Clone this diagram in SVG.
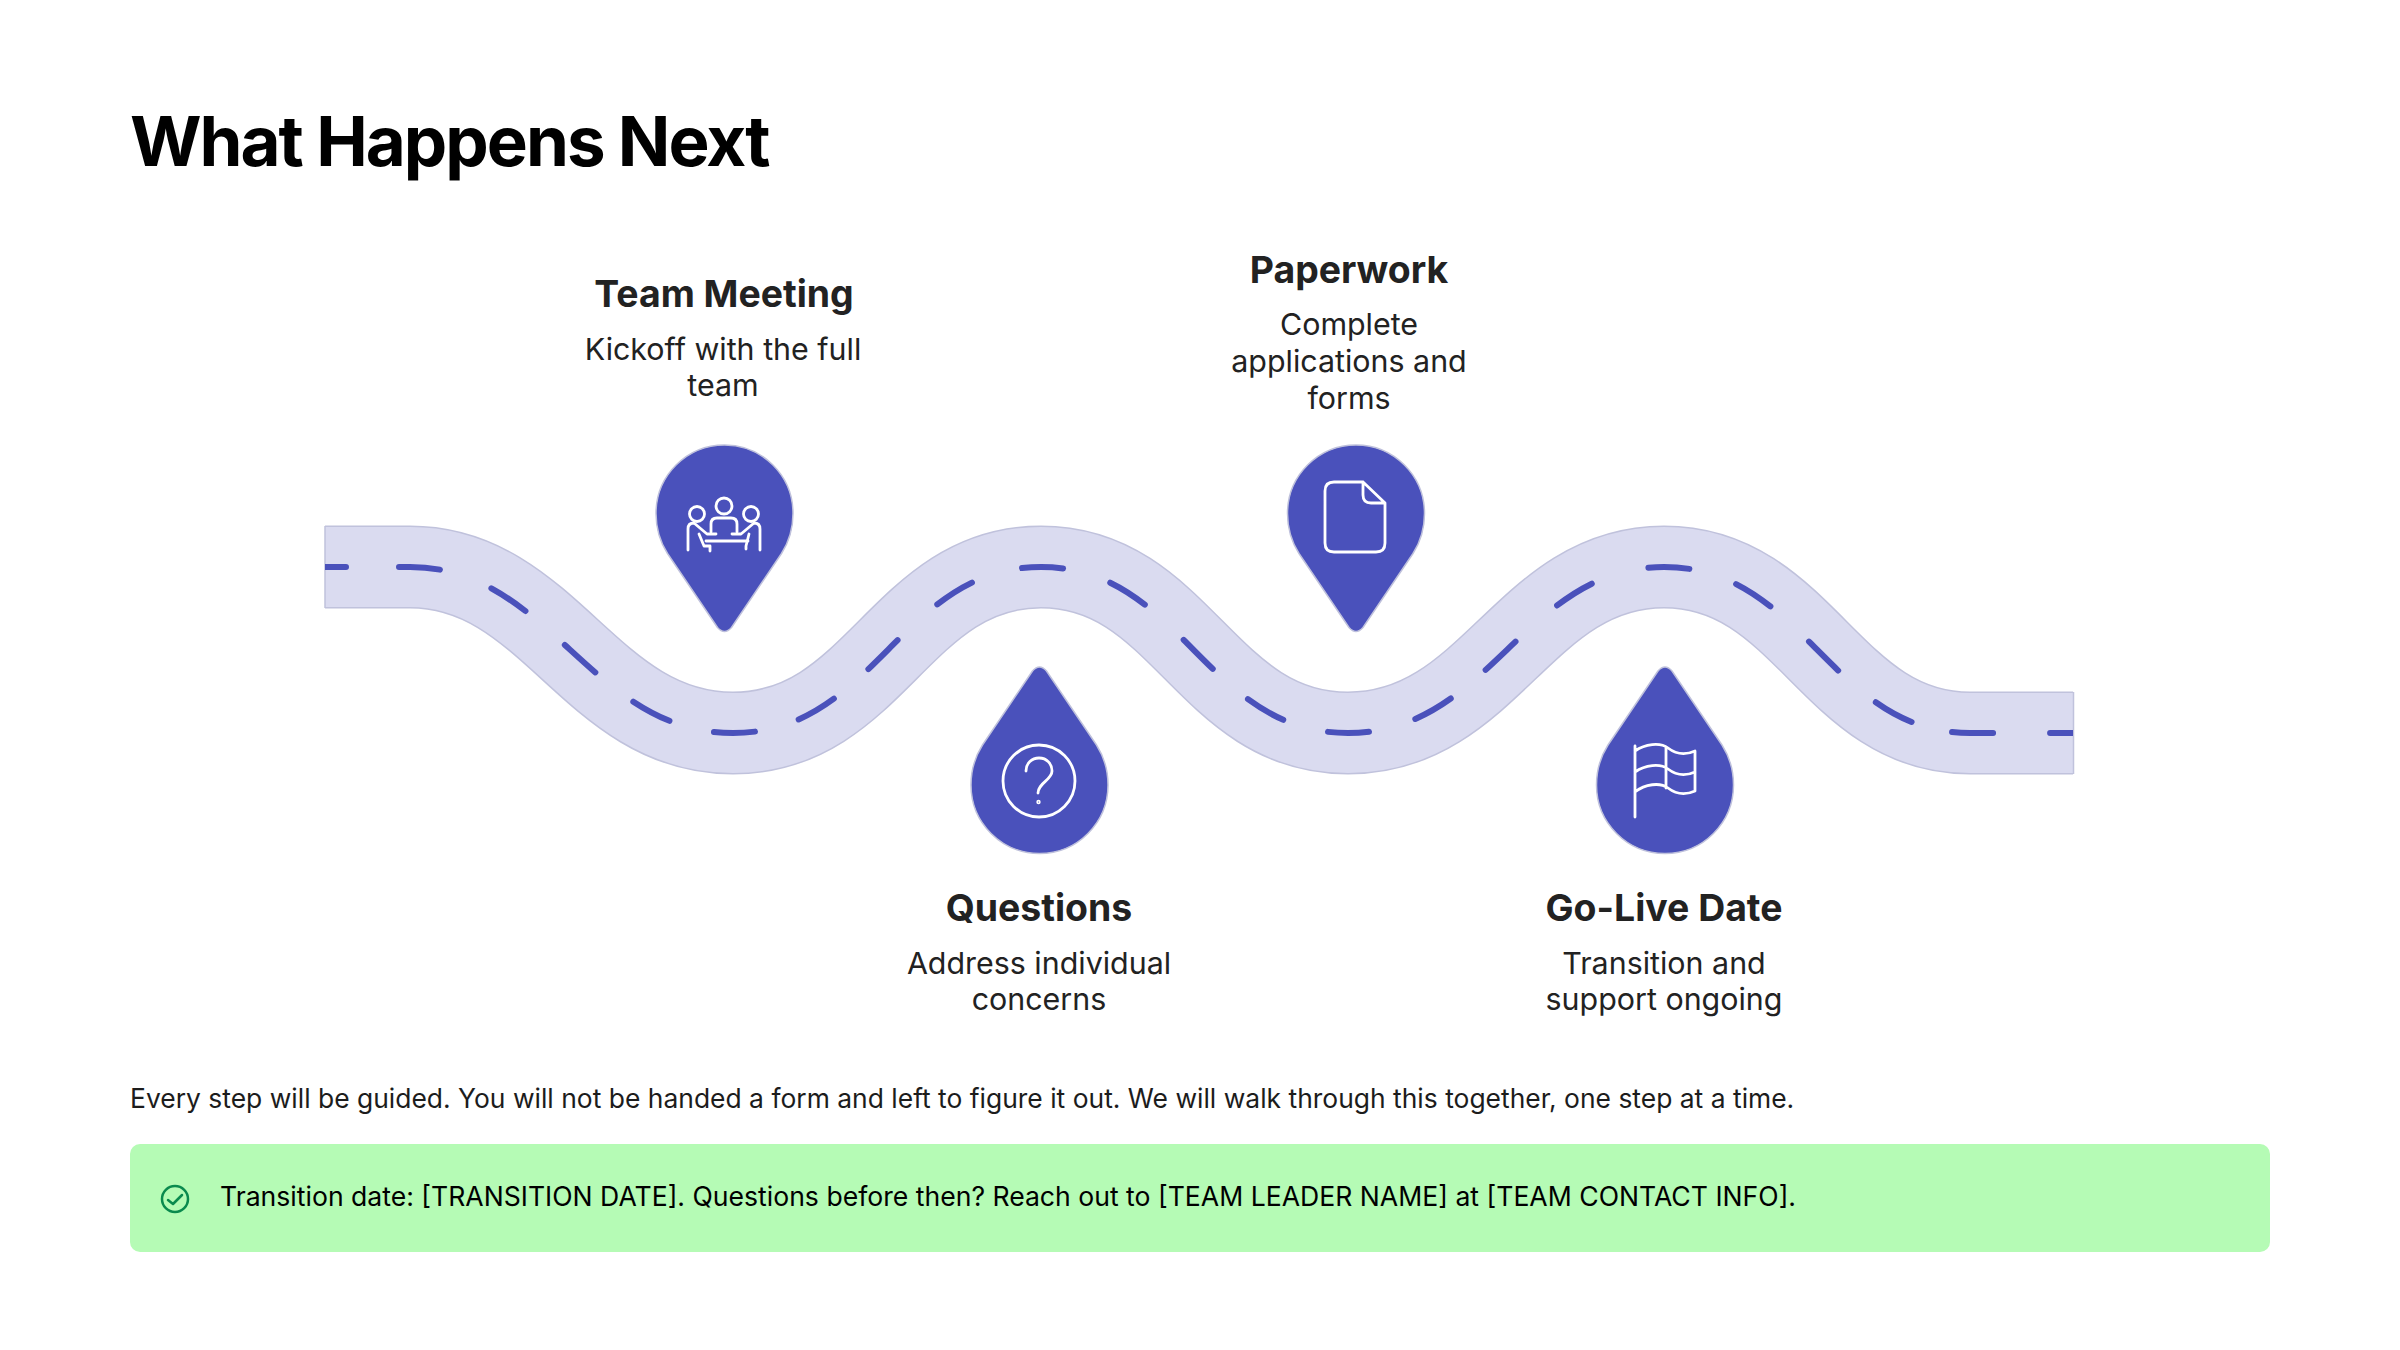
<svg xmlns="http://www.w3.org/2000/svg" width="2400" height="1350" viewBox="0 0 2400 1350">
<style>
text{font-family:"Inter","Liberation Sans",sans-serif}
.t{font-size:69px;font-weight:700;fill:#000;letter-spacing:-2px}
.h{font-size:37.400px;font-weight:700;fill:#222;text-anchor:middle}
.d{font-size:30.400px;fill:#222;text-anchor:middle}
.b{font-size:26.450px;fill:#1c1c1c}
.c{font-size:26.600px;fill:#000}
.road{fill:none}
.pin{fill:#4a51bb;stroke:#bfc1dc;stroke-width:1.5}
.ic{fill:none;stroke:#fff;stroke-width:2.8;stroke-linecap:round;stroke-linejoin:round}
</style>
<defs>
<clipPath id="rc"><rect x="325" y="500" width="1748" height="300"/></clipPath>
<path id="drop" d="M-7-114L-57-40C-64-29-68.500-16-68.500 0A68.500 68.500 0 0 0 68.500 0C68.500-16 64-29 57-40L7-114Q0-122-7-114Z"/>
<path id="rd" d="M325 567H410C550 567 590 733 733 733C876 733 900 567 1041 567C1182 567 1205 733 1348 733C1491 733 1523 567 1664 567C1805 567 1830 733 1970 733H2073"/>
</defs>
<rect width="2400" height="1350" fill="#fff"/>
<text class="t" x="130" y="165.500">What Happens Next</text>
<g id="connectors">
<use href="#rd" class="road" stroke="#c0c2dc" stroke-width="83"/>
<use href="#rd" class="road" stroke="#dadbf0" stroke-width="80"/>
<path d="M325 526V608M2073.500 692V774" stroke="#c0c2dc" stroke-width="1.500" fill="none"/>
<g clip-path="url(#rc)"><use href="#rd" class="road" stroke="#4a51bb" stroke-width="6" stroke-linecap="round" stroke-dasharray="21 53 41 55 41 52 41 48 41 46 41 45.500 41 45.500 41 53.500 41 52.500 41 49.500 41 52.500 41 46.500 41 46.500 41 48.200 41 45.200 41 55.200 41 59.200 41 49.300 41 52.300 41 49.300 41 41.800 41 57 41 200"/></g>
</g>
<g id="team-meeting">
<use href="#drop" class="pin" transform="translate(724.500 513.500) scale(1 -1)"/>
<g class="ic">
<circle cx="697" cy="514" r="7.500"/><circle cx="724" cy="506" r="8"/><circle cx="751" cy="514" r="7.500"/>
<path d="M688 550V529Q688 523 694 523L707 534H716M699 534L704 546H710V551"/>
<path d="M760 550V529Q760 523 754 523L741 534H732M749 534L746 546V549"/>
<path d="M711 532V524Q711 518 717 518H731Q737 518 737 524V532M706 541H748"/>
</g>
<text class="h" x="724" y="306.500">Team Meeting</text>
<text class="d" x="723" y="360">Kickoff with the full</text>
<text class="d" x="723" y="396">team</text>
</g>
<g id="paperwork">
<use href="#drop" class="pin" transform="translate(1356 513.500) scale(1 -1)"/>
<path class="ic" d="M1363 482H1334Q1325 482 1325 491V543Q1325 552 1334 552H1376Q1385 552 1385 543V503ZM1363 482V495Q1363 503 1371 503H1385"/>
<text class="h" x="1349" y="282.500">Paperwork</text>
<text class="d" x="1349" y="335">Complete</text>
<text class="d" x="1349" y="372">applications and</text>
<text class="d" x="1349" y="408.500">forms</text>
</g>
<g id="questions">
<use href="#drop" class="pin" transform="translate(1039.500 785)"/>
<g class="ic"><circle cx="1039" cy="781" r="36"/><path d="M1026 771C1026 763 1032 758 1039 758C1047 758 1052 764 1052 771C1052 780 1038 783 1038 793"/><circle cx="1038.500" cy="802" r=".8"/></g>
<text class="h" x="1039" y="920.500">Questions</text>
<text class="d" x="1039" y="973.500">Address individual</text>
<text class="d" x="1039" y="1010">concerns</text>
</g>
<g id="go-live">
<use href="#drop" class="pin" transform="translate(1665 785)"/>
<path class="ic" d="M1635 746V817M1635 751C1645 744 1660 742 1668 748C1677 755 1686 755 1695 751V791C1686 795 1677 795 1668 788C1660 782 1645 784 1635 792M1635 772C1645 765 1660 763 1668 769C1677 776 1686 776 1695 772M1666 747V788"/>
<text class="h" x="1664" y="920.500">Go-Live Date</text>
<text class="d" x="1664" y="973.500">Transition and</text>
<text class="d" x="1664" y="1010">support ongoing</text>
</g>
<text class="b" x="130" y="1108">Every step will be guided. You will not be handed a form and left to figure it out. We will walk through this together, one step at a time.</text>
<g id="callout">
<rect x="130" y="1144" width="2140" height="108" rx="10" fill="#b5fbb5"/>
<circle cx="175" cy="1199" r="13" fill="none" stroke="#0a8a4e" stroke-width="2.500"/>
<path d="M168 1200L173 1204L182 1195" fill="none" stroke="#0a8a4e" stroke-width="2.500" stroke-linecap="round" stroke-linejoin="round"/>
<text class="c" x="220" y="1206">Transition date: [TRANSITION DATE]. Questions before then? Reach out to [TEAM LEADER NAME] at [TEAM CONTACT INFO].</text>
</g>
</svg>
